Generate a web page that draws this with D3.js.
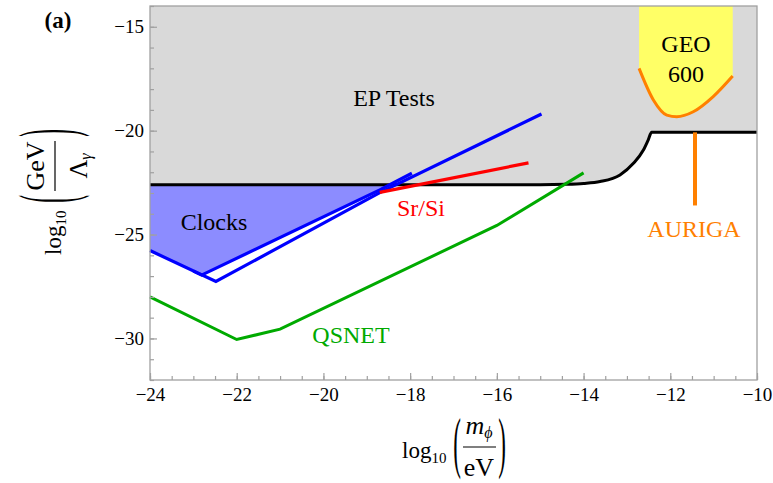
<!DOCTYPE html>
<html>
<head>
<meta charset="utf-8">
<script src="https://cdn.jsdelivr.net/npm/d3@7"></script>
<style>
  body { margin: 0; background: #fff; }
  svg { display: block; font-family: "Liberation Serif", "DejaVu Serif", serif; }
</style>
</head>
<body>
<svg id="chart" width="773" height="483"></svg>
<script>
// axis ticks
const xTicksMajor = [-24, -22, -20, -18, -16, -14, -12, -10];
const yTicksMajor = [-30, -25, -20, -15];
const xTicksMinor = d3.range(-24, -9.99, 0.5);
const yTicksMinor = d3.range(-32, -13.99, 1);

// EP tests boundary (black)
const epX = [-24, -15, -14.4, -14.0, -13.62, -13.16, -12.85, -12.62, -12.51, -12.43, -10];
const epY = [-22.6, -22.6, -22.58, -22.54, -22.45, -22.13, -21.57, -20.93, -20.45, -20.08, -20.08];

// clocks region
const clocksFillX = [-24, -24, -22.81, -18.47];
const clocksFillY = [-22.6, -25.77, -26.95, -22.6];
const blueOuterX = [-24, -22.48, -18.7, -14.97];
const blueOuterY = [-25.77, -27.26, -22.98, -19.2];
const blueInnerX = [-23.0, -22.81, -18.7, -17.96];
const blueInnerY = [-26.76, -26.95, -22.85, -22.05];

// Sr/Si
const srsiX = [-18.7, -15.27];
const srsiY = [-22.97, -21.55];

// QSNET
const qsnetX = [-24, -22, -21, -16, -14];
const qsnetY = [-28.0, -30.05, -29.55, -24.56, -22.03];

// GEO600
const geoX = [-12.72, -12.39, -12.08, -11.85, -11.47, -11.01, -10.56];
const geoY = [-17.0, -18.52, -19.25, -19.33, -19.09, -18.36, -17.37];

// AURIGA
const aurigaX = [-11.43, -11.43];
const aurigaY = [-20.08, -23.6];

const svg = d3.select('#chart');
const x = d3.scaleLinear().domain([-24, -10]).range([150, 757]);
const y = d3.scaleLinear().domain([-32, -14]).range([380, 6]);

const zip = (a, b) => a.map((v, i) => [v, b[i]]);
const line = d3.line().x(d => x(d[0])).y(d => y(d[1]));

// gray EP area
svg.append('path')
    .datum(zip(epX, epY))
    .attr('fill', '#d9d9d9')
    .attr('d', d3.area().x(d => x(d[0])).y0(y(-14)).y1(d => y(d[1])).curve(d3.curveMonotoneX));

// GEO600 yellow
svg.append('path')
    .datum(zip(geoX, geoY))
    .attr('fill', '#ffff66')
    .attr('d', d3.area().x(d => x(d[0])).y0(y(-14)).y1(d => y(d[1])).curve(d3.curveMonotoneX));

// clocks fill
svg.append('path')
    .datum(zip(clocksFillX, clocksFillY))
    .attr('fill', '#8c8cff')
    .attr('d', d3.line().x(d => x(d[0])).y(d => y(d[1])).curve(d3.curveLinearClosed));

// black boundary
svg.append('path')
    .datum(zip(epX, epY))
    .attr('fill', 'none').attr('stroke', '#000').attr('stroke-width', 3)
    .attr('d', line.curve(d3.curveMonotoneX));
line.curve(d3.curveLinear);

const drawLine = (xs, ys, color, w) => svg.append('path')
    .datum(zip(xs, ys))
    .attr('fill', 'none').attr('stroke', color).attr('stroke-width', w)
    .attr('stroke-linejoin', 'miter')
    .attr('d', line);

drawLine(blueOuterX, blueOuterY, '#0000ff', 3.2);
drawLine(blueInnerX, blueInnerY, '#0000ff', 3.2);
drawLine(srsiX, srsiY, '#ff0000', 3.2);
drawLine(qsnetX, qsnetY, '#00aa00', 3);
drawLine(aurigaX, aurigaY, '#ff8000', 4);

svg.append('path')
    .datum(zip(geoX, geoY))
    .attr('fill', 'none').attr('stroke', '#ff8000').attr('stroke-width', 3)
    .attr('d', d3.line().x(d => x(d[0])).y(d => y(d[1])).curve(d3.curveMonotoneX));

// frame
svg.append('rect')
    .attr('x', x(-24)).attr('y', y(-14))
    .attr('width', x(-10) - x(-24)).attr('height', y(-32) - y(-14))
    .attr('fill', 'none').attr('stroke', '#a0a0a0').attr('stroke-width', 1.3);

// axes
const fmt = d3.format('d');
const styleAxis = g => {
    g.select('.domain').remove();
    g.selectAll('line').attr('stroke', '#a0a0a0').attr('stroke-width', 1.2);
    g.selectAll('text').attr('fill', '#000').attr('font-size', 19)
        .attr('font-family', '"Liberation Serif", serif');
};
svg.append('g').attr('transform', `translate(0,${y(-32)})`)
    .call(d3.axisBottom(x).tickValues(xTicksMinor).tickSize(-4).tickFormat(''))
    .call(styleAxis);
svg.append('g').attr('transform', `translate(0,${y(-32)})`)
    .call(d3.axisBottom(x).tickValues(xTicksMajor).tickSize(-7).tickPadding(8).tickFormat(fmt))
    .call(styleAxis);
svg.append('g').attr('transform', `translate(${x(-24)},0)`)
    .call(d3.axisLeft(y).tickValues(yTicksMinor).tickSize(-4).tickFormat(''))
    .call(styleAxis);
svg.append('g').attr('transform', `translate(${x(-24)},0)`)
    .call(d3.axisLeft(y).tickValues(yTicksMajor).tickSize(-7).tickPadding(6).tickFormat(fmt))
    .call(styleAxis);

// annotations
const label = (t, px, py, color, size, anchor = 'middle') => svg.append('text')
    .attr('x', px).attr('y', py).attr('fill', color).attr('font-size', size)
    .attr('text-anchor', anchor).text(t);

label('EP Tests', 394, 106, '#000', 24);
label('Clocks', 214, 230, '#000', 24);
label('Sr/Si', 421, 216, '#ff0000', 24);
label('QSNET', 351, 343, '#00aa00', 24);
label('AURIGA', 694, 237, '#ff8000', 24);
label('GEO', 686, 52, '#000', 24);
label('600', 686, 82, '#000', 24);
label('(a)', 58, 28, '#000', 23).attr('font-weight', 'bold');

// x axis title
const xt = svg.append('g');
xt.append('text').attr('x', 402).attr('y', 458).attr('font-size', 23).text('log')
  .append('tspan').attr('font-size', 15).attr('dy', 5).text('10');
xt.append('text').attr('transform', 'translate(457,449) scale(1,2.95)')
  .attr('y', 5.4).attr('font-size', 23).attr('text-anchor', 'middle').text('(');
xt.append('text').attr('transform', 'translate(502,449) scale(1,2.95)')
  .attr('y', 5.4).attr('font-size', 23).attr('text-anchor', 'middle').text(')');
xt.append('line').attr('x1', 463).attr('x2', 496).attr('y1', 447).attr('y2', 447)
  .attr('stroke', '#000').attr('stroke-width', 1.2);
xt.append('text').attr('x', 479).attr('y', 434).attr('font-size', 26).attr('text-anchor', 'middle')
  .html('<tspan font-style="italic">m</tspan><tspan font-size="16" dy="4" font-style="italic">ϕ</tspan>');
xt.append('text').attr('x', 479).attr('y', 476).attr('font-size', 26).attr('text-anchor', 'middle').text('eV');

// y axis title (rotated)
const yt = svg.append('g').attr('transform', 'translate(55,193) rotate(-90)');
yt.append('text').attr('x', -62).attr('y', 6).attr('font-size', 23).text('log')
  .append('tspan').attr('font-size', 15).attr('dy', 5).text('10');
yt.append('text').attr('transform', 'translate(-6,0) scale(1,3.4)')
  .attr('y', 5.4).attr('font-size', 23).attr('text-anchor', 'middle').text('(');
yt.append('text').attr('transform', 'translate(60,0) scale(1,3.4)')
  .attr('y', 5.4).attr('font-size', 23).attr('text-anchor', 'middle').text(')');
yt.append('line').attr('x1', 2).attr('x2', 52).attr('y1', 0).attr('y2', 0)
  .attr('stroke', '#000').attr('stroke-width', 1.2);
yt.append('text').attr('x', 27).attr('y', -11).attr('font-size', 26).attr('text-anchor', 'middle').text('GeV');
yt.append('text').attr('x', 27).attr('y', 32).attr('font-size', 26).attr('text-anchor', 'middle')
  .html('Λ<tspan font-size="16" dy="4" font-style="italic">γ</tspan>');
</script>
</body>
</html>
